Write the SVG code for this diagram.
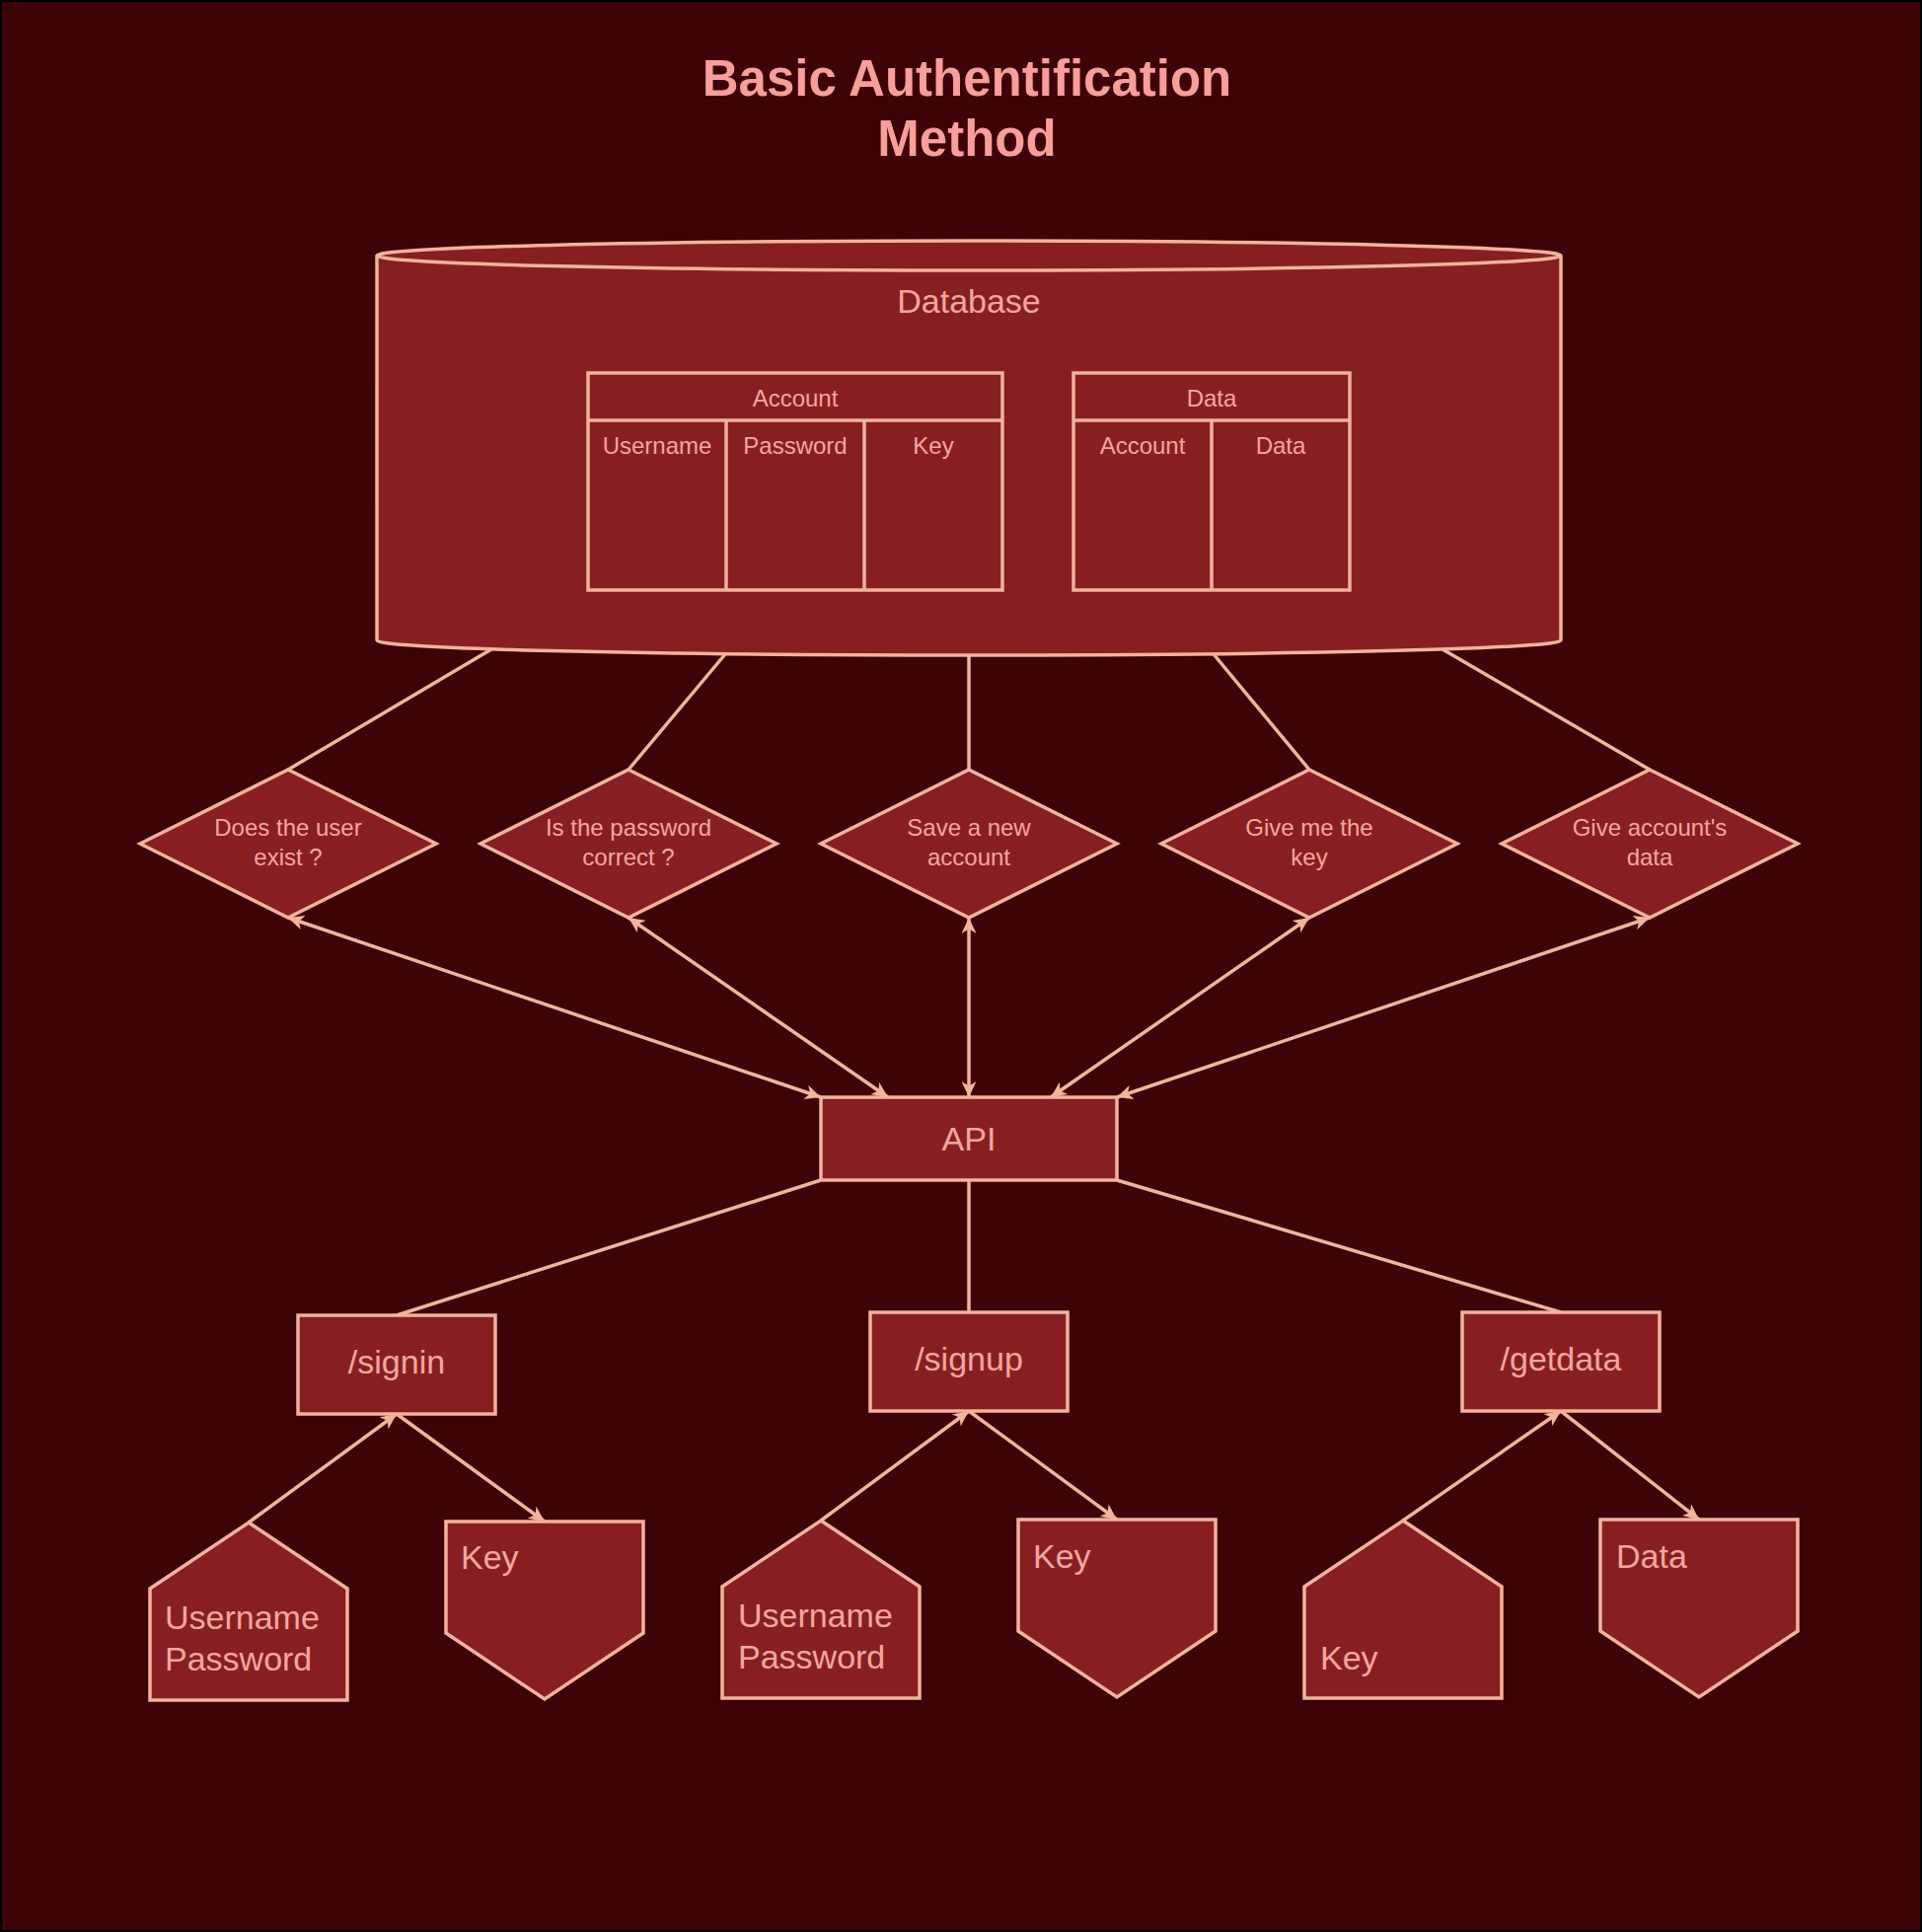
<svg xmlns="http://www.w3.org/2000/svg" width="1948" height="1958" viewBox="0 0 1948 1958">
<defs>
<style>
.bg{fill:#3d0306;stroke:#000;stroke-width:2}
.n{fill:#871f22;stroke:#f3b39d;stroke-width:3.5}
.ln{fill:none;stroke:#f3b39d;stroke-width:3.5}
.c{fill:none;stroke:#f3b39d;stroke-width:3.5}
.t{font-family:"Liberation Sans",Arial,Helvetica,sans-serif;fill:#f4a6a0}
.s24{font-size:24px}
.s34{font-size:34px}
.m{text-anchor:middle}
.title{font-family:"Liberation Sans",Arial,Helvetica,sans-serif;font-weight:bold;font-size:51px;fill:#f89e9b;text-anchor:middle}
</style>
<marker id="ar" markerUnits="userSpaceOnUse" markerWidth="17" markerHeight="15" viewBox="0 0 17 15" refX="16" refY="7.5" orient="auto-start-reverse">
<path d="M0,0 L16,7.5 L0,15 L4.5,7.5 Z" fill="#f3b39d"/>
</marker>
</defs>
<rect class="bg" x="1" y="1" width="1946" height="1956"/>
<g id="title">
<text class="title" x="980" y="97">Basic Authentification</text>
<text class="title" x="980" y="158">Method</text>
</g>
<g id="connectors">
<line class="c" x1="292" y1="780" x2="498" y2="658"/>
<line class="c" x1="637" y1="780" x2="735" y2="663"/>
<line class="c" x1="982" y1="780" x2="982" y2="664"/>
<line class="c" x1="1327" y1="780" x2="1230" y2="663"/>
<line class="c" x1="1672" y1="780" x2="1462" y2="658"/>
<line class="c" x1="292" y1="930" x2="832" y2="1112" marker-start="url(#ar)" marker-end="url(#ar)"/>
<line class="c" x1="637" y1="930" x2="900" y2="1112" marker-start="url(#ar)" marker-end="url(#ar)"/>
<line class="c" x1="982" y1="930" x2="982" y2="1112" marker-start="url(#ar)" marker-end="url(#ar)"/>
<line class="c" x1="1327" y1="930" x2="1065" y2="1112" marker-start="url(#ar)" marker-end="url(#ar)"/>
<line class="c" x1="1672" y1="930" x2="1132" y2="1112" marker-start="url(#ar)" marker-end="url(#ar)"/>
<line class="c" x1="832" y1="1196" x2="402" y2="1333"/>
<line class="c" x1="982" y1="1196" x2="982" y2="1330"/>
<line class="c" x1="1132" y1="1196" x2="1582" y2="1330"/>
<line class="c" x1="252" y1="1543" x2="402" y2="1433" marker-end="url(#ar)"/>
<line class="c" x1="402" y1="1433" x2="552" y2="1542" marker-end="url(#ar)"/>
<line class="c" x1="832" y1="1541" x2="982" y2="1430" marker-end="url(#ar)"/>
<line class="c" x1="982" y1="1430" x2="1132" y2="1540" marker-end="url(#ar)"/>
<line class="c" x1="1422" y1="1541" x2="1582" y2="1430" marker-end="url(#ar)"/>
<line class="c" x1="1582" y1="1430" x2="1722" y2="1540" marker-end="url(#ar)"/>
</g>
<g id="database">
<path class="n" d="M382,259 A600,15 0 0 1 1582,259 L1582,649 A600,15 0 0 1 382,649 Z"/>
<path class="ln" d="M382,259 A600,15 0 0 0 1582,259"/>
<text class="t s34 m" x="982" y="317">Database</text>
</g>
<g id="table-account">
<rect class="n" x="596" y="378" width="420" height="220"/>
<line class="ln" x1="596" y1="426" x2="1016" y2="426"/>
<line class="ln" x1="736" y1="426" x2="736" y2="598"/>
<line class="ln" x1="876" y1="426" x2="876" y2="598"/>
<text class="t s24 m" x="806" y="412">Account</text>
<text class="t s24 m" x="666" y="460">Username</text>
<text class="t s24 m" x="806" y="460">Password</text>
<text class="t s24 m" x="946" y="460">Key</text>
</g>
<g id="table-data">
<rect class="n" x="1088" y="378" width="280" height="220"/>
<line class="ln" x1="1088" y1="426" x2="1368" y2="426"/>
<line class="ln" x1="1228" y1="426" x2="1228" y2="598"/>
<text class="t s24 m" x="1228" y="412">Data</text>
<text class="t s24 m" x="1158" y="460">Account</text>
<text class="t s24 m" x="1298" y="460">Data</text>
</g>
<g id="d-user-exist">
<polygon class="n" points="292,780 442,855 292,930 142,855"/>
<text class="t s24 m" x="292" y="847">Does the user</text>
<text class="t s24 m" x="292" y="877">exist ?</text>
</g>
<g id="d-password">
<polygon class="n" points="637,780 787,855 637,930 487,855"/>
<text class="t s24 m" x="637" y="847">Is the password</text>
<text class="t s24 m" x="637" y="877">correct ?</text>
</g>
<g id="d-save">
<polygon class="n" points="982,780 1132,855 982,930 832,855"/>
<text class="t s24 m" x="982" y="847">Save a new</text>
<text class="t s24 m" x="982" y="877">account</text>
</g>
<g id="d-key">
<polygon class="n" points="1327,780 1477,855 1327,930 1177,855"/>
<text class="t s24 m" x="1327" y="847">Give me the</text>
<text class="t s24 m" x="1327" y="877">key</text>
</g>
<g id="d-data">
<polygon class="n" points="1672,780 1822,855 1672,930 1522,855"/>
<text class="t s24 m" x="1672" y="847">Give account's</text>
<text class="t s24 m" x="1672" y="877">data</text>
</g>
<g id="api">
<rect class="n" x="832" y="1112" width="300" height="84"/>
<text class="t s34 m" x="982" y="1166">API</text>
</g>
<g id="signin">
<rect class="n" x="302" y="1333" width="200" height="100"/>
<text class="t s34 m" x="402" y="1392">/signin</text>
</g>
<g id="signup">
<rect class="n" x="882" y="1330" width="200" height="100"/>
<text class="t s34 m" x="982" y="1389">/signup</text>
</g>
<g id="getdata">
<rect class="n" x="1482" y="1330" width="200" height="100"/>
<text class="t s34 m" x="1582" y="1389">/getdata</text>
</g>
<g id="signin-in">
<polygon class="n" points="252,1543 352,1610 352,1723 152,1723 152,1610"/>
<text class="t s34" x="167" y="1651">Username</text>
<text class="t s34" x="167" y="1693">Password</text>
</g>
<g id="signin-out">
<polygon class="n" points="452,1542 652,1542 652,1655 552,1722 452,1655"/>
<text class="t s34" x="467" y="1590">Key</text>
</g>
<g id="signup-in">
<polygon class="n" points="832,1541 932,1608 932,1721 732,1721 732,1608"/>
<text class="t s34" x="748" y="1649">Username</text>
<text class="t s34" x="748" y="1691">Password</text>
</g>
<g id="signup-out">
<polygon class="n" points="1032,1540 1232,1540 1232,1653 1132,1720 1032,1653"/>
<text class="t s34" x="1047" y="1589">Key</text>
</g>
<g id="getdata-in">
<polygon class="n" points="1422,1541 1522,1608 1522,1721 1322,1721 1322,1608"/>
<text class="t s34" x="1338" y="1692">Key</text>
</g>
<g id="getdata-out">
<polygon class="n" points="1622,1540 1822,1540 1822,1653 1722,1720 1622,1653"/>
<text class="t s34" x="1638" y="1589">Data</text>
</g>
</svg>
